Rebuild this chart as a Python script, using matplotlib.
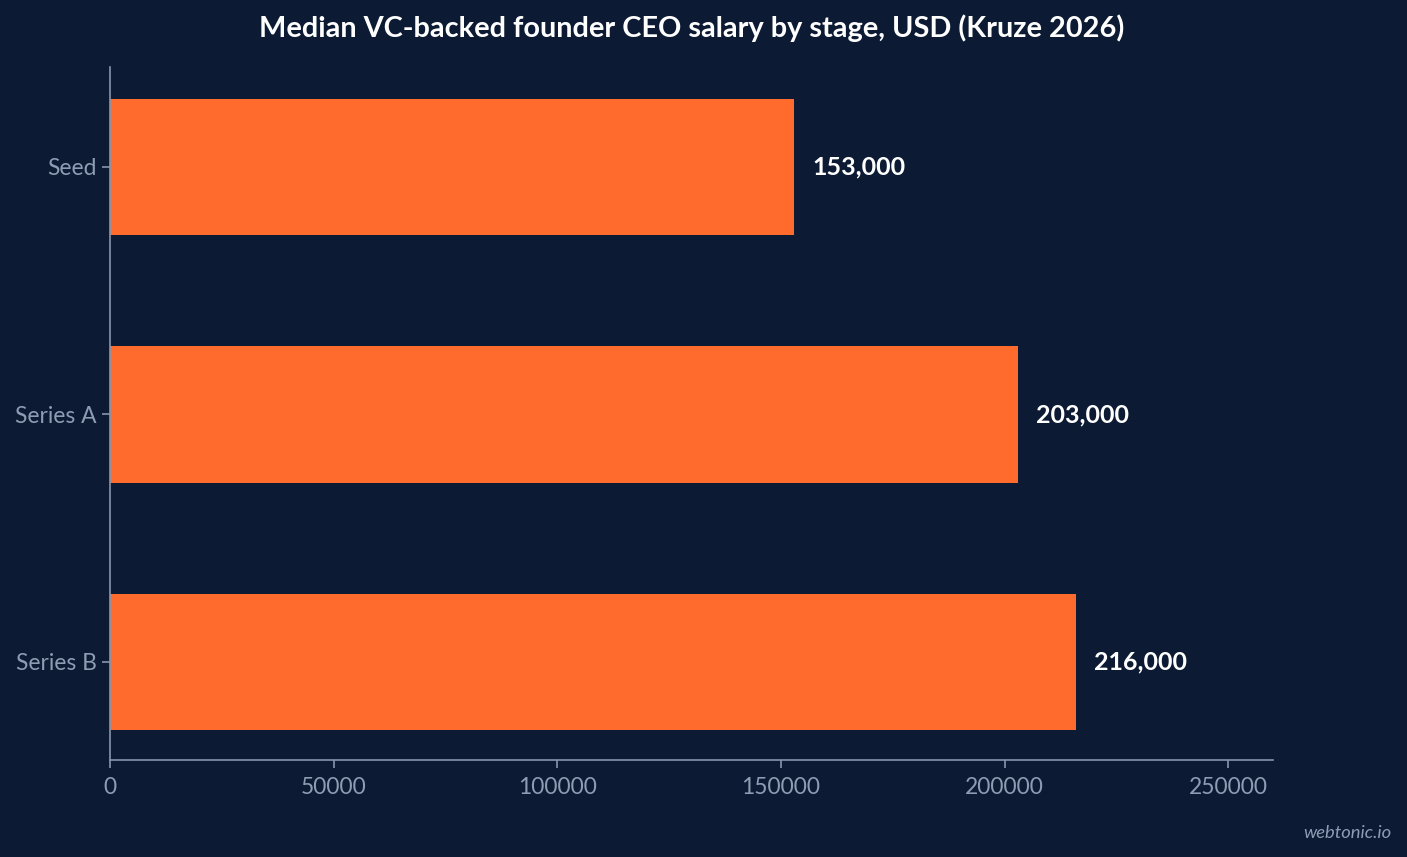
import matplotlib
matplotlib.use("Agg")
import matplotlib.pyplot as plt

stages = ["Seed", "Series A", "Series B"]
salaries = [153000, 203000, 216000]
xticks = [0, 50000, 100000, 150000, 200000, 250000]

BG = "#0c1b33"
BAR = "#ff6b2c"
AXC = "#8796ad"
TXT = "#8e9db4"

plt.rcParams['font.family'] = ['Lato', 'DejaVu Sans']

fig = plt.figure(figsize=(14.07, 8.57), dpi=100, facecolor=BG)
ax = fig.add_axes([110/1407, 1-760/857, (1273-110)/1407, (760-67)/857])
ax.set_facecolor(BG)

ypos = list(range(len(stages)))
ax.barh(ypos, salaries, height=0.55, color=BAR)
ax.set_yticks(ypos)
ax.set_yticklabels(stages)
ax.set_ylim(2.396, -0.404)
ax.set_xlim(0, 260000)
ax.set_xticks(xticks)
ax.set_xticklabels([str(v) for v in xticks])

for s in ["top", "right"]:
    ax.spines[s].set_visible(False)
for s in ["left", "bottom"]:
    ax.spines[s].set_color(AXC)
    ax.spines[s].set_linewidth(1.2)
ax.tick_params(colors=AXC, labelcolor=TXT, labelsize=16.4, length=6, width=1.2)
ax.tick_params(axis='x', pad=6)
ax.tick_params(axis='y', pad=3.5)

for y, v in zip(ypos, salaries):
    ax.text(v + 4000, y, f"{v:,}", color="white", fontsize=18, fontweight="bold",
            va="center", ha="left")

fig.text(691.5/1407, 1-28/857, "Median VC-backed founder CEO salary by stage, USD (Kruze 2026)",
         color="white", fontsize=20.8, fontweight="bold", ha="center", va="center")
fig.text(1391/1407, 1-833/857, "webtonic.io", color=TXT, fontsize=13.2, style="italic",
         ha="right", va="center")

fig.savefig("out.png", dpi=100, facecolor=BG)
